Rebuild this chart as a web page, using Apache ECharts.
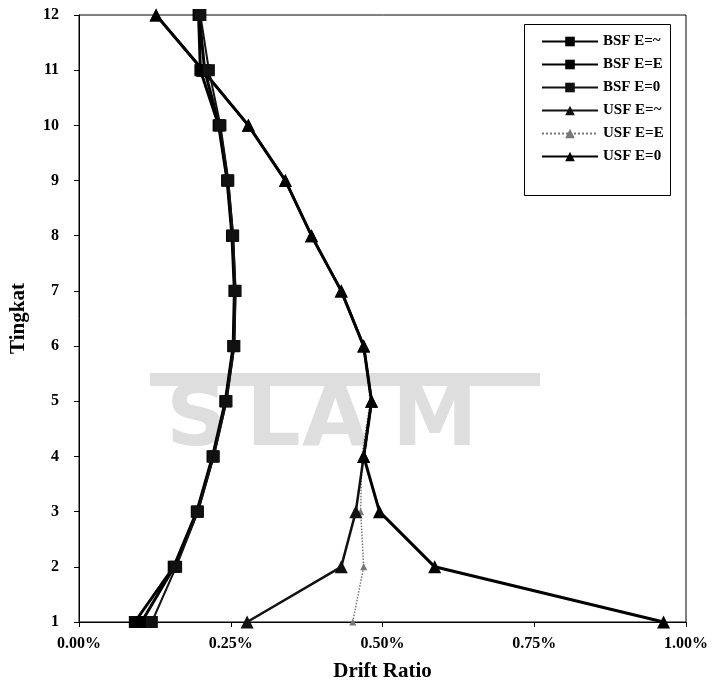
<!DOCTYPE html>
<html><head><meta charset="utf-8">
<script src="https://cdn.jsdelivr.net/npm/echarts@6/dist/echarts.min.js"></script>
<style>html,body{margin:0;padding:0;background:#fff}#c{width:719px;height:687px}</style>
</head><body><div id="c"></div>
<script>
// Levels (Tingkat)
const levels = [1,2,3,4,5,6,7,8,9,10,11,12];
// Drift ratio values in percent, level 1..12
const bsfEinf = [0.092,0.156,0.194,0.220,0.241,0.254,0.256,0.252,0.244,0.230,0.200,0.197];
const bsfEE   = [0.103,0.157,0.195,0.221,0.242,0.255,0.257,0.253,0.245,0.231,0.207,0.198];
const bsfE0   = [0.120,0.160,0.196,0.222,0.243,0.256,0.258,0.254,0.246,0.233,0.214,0.200];
const usfEinf = [0.277,0.432,0.456,0.469,0.482,0.469,0.432,0.383,0.340,0.279,0.204,0.127];
const usfEE   = [0.451,0.469,0.464,0.466,0.480,0.468,0.432,0.383,0.340,0.279,0.204,0.127];
const usfE0   = [0.963,0.586,0.495,0.469,0.482,0.469,0.432,0.383,0.340,0.279,0.204,0.127];
const seriesNames = ['BSF E=~','BSF E=E','BSF E=0','USF E=~','USF E=E','USF E=0'];

const pairs = v => v.map((x,i)=>[x, levels[i]]);
const font = '"Liberation Serif", "Times New Roman", serif';

function mk(name, vals, sym, size, width, type, color, z) {
  return {
    name, type:'line', data: pairs(vals), symbol: sym, symbolSize: size,
    lineStyle:{color, width, type}, itemStyle:{color}, z, animation:false,
    emphasis:{disabled:true}
  };
}

const wm = '#dedede';
const letters = [['S',166],['L',246],['A',302],['M',392]];
const graphic = [
  {type:'rect', z:-1, silent:true, shape:{x:150,y:373,width:390,height:13}, style:{fill:wm}},
  ...letters.map(([t,x])=>({type:'text', z:-1, silent:true, left:x, top:380,
    style:{text:t, fill:wm, font:'bold 86px "DejaVu Sans", sans-serif'}})),
  {type:'rect', z:10, shape:{x:524.5,y:24.5,width:146,height:171}, style:{fill:'none', stroke:'#000', lineWidth:1}}
];

const chart = echarts.init(document.getElementById('c'));
chart.setOption({
  backgroundColor:'#fff',
  animation:false,
  graphic,
  grid:{left:72, right:33, top:15, bottom:65, show:true, borderColor:'#000', borderWidth:1, backgroundColor:'transparent'},
  legend:{
    orient:'vertical', left:536, top:29, itemWidth:56, itemHeight:12, itemGap:8,
    data: seriesNames,
    textStyle:{fontFamily:font, fontSize:15, color:'#000', fontWeight:'bold'},
    selectedMode:false
  },
  xAxis:{
    type:'value', min:0, max:1, interval:0.25,
    name:'Drift Ratio', nameLocation:'middle', nameGap:39,
    nameTextStyle:{fontFamily:font, fontSize:21, fontWeight:'bold', color:'#000'},
    axisLine:{lineStyle:{color:'#000', width:1}},
    axisTick:{show:true, length:5, lineStyle:{color:'#000'}},
    splitLine:{show:false},
    axisLabel:{margin:14, fontFamily:font, fontSize:16, fontWeight:'bold', color:'#000',
      formatter:v=>v.toFixed(2)+'%'}
  },
  yAxis:{
    type:'value', min:1, max:12, interval:1,
    name:'Tingkat', nameLocation:'middle', nameGap:50, nameRotate:90,
    nameTextStyle:{fontFamily:font, fontSize:21, fontWeight:'bold', color:'#000'},
    axisLine:{show:true, lineStyle:{color:'#000', width:1}},
    axisTick:{show:true, length:5, lineStyle:{color:'#000'}},
    splitLine:{show:false},
    axisLabel:{margin:20, fontFamily:font, fontSize:16, fontWeight:'bold', color:'#000'}
  },
  series:[
    mk('USF E=E', usfEE, 'triangle', 7, 1.5, 'dotted', '#777', 1),
    mk('USF E=~', usfEinf, 'triangle', 13, 2.5, 'solid', '#111', 2),
    mk('USF E=0', usfE0, 'triangle', 13, 3, 'solid', '#000', 2),
    mk('BSF E=~', bsfEinf, 'rect', 12, 3, 'solid', '#000', 3),
    mk('BSF E=E', bsfEE, 'rect', 12, 3, 'solid', '#000', 3),
    mk('BSF E=0', bsfE0, 'rect', 12, 2, 'solid', '#111', 3)
  ]
});
</script></body></html>
